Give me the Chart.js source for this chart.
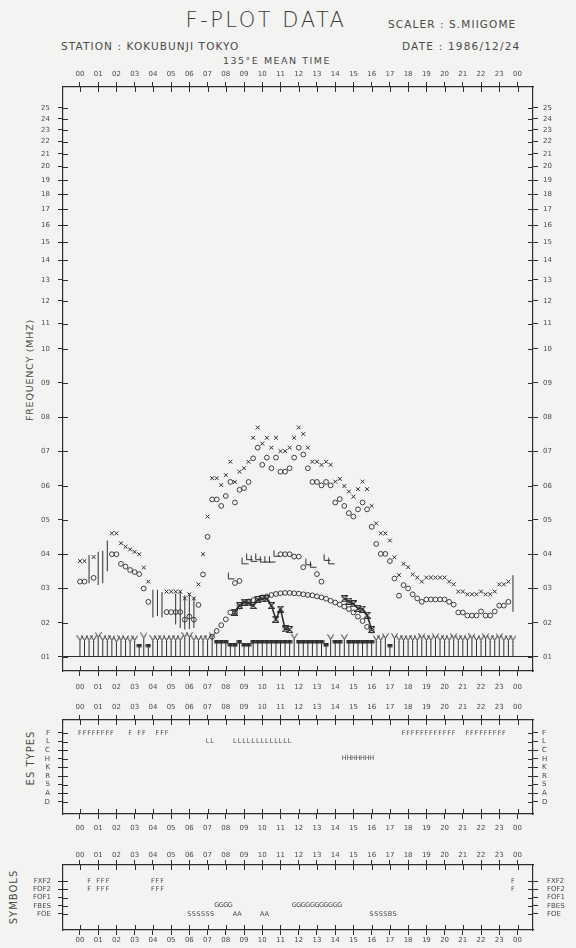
<!DOCTYPE html>
<html>
<head>
<meta charset="utf-8">
<title>F-PLOT DATA</title>
<script src="https://cdn.jsdelivr.net/npm/chart.js@4.4.1/dist/chart.umd.min.js"></script>
<style>
html,body{margin:0;padding:0;}
body{width:576px;height:948px;background:#f3f3f1;position:relative;overflow:hidden;font-family:"DejaVu Sans",sans-serif;color:#4a4a4a;}
.t{position:absolute;white-space:nowrap;line-height:1;}
.c{transform:translate(-50%,-50%);}
.l{transform:translate(0,-50%);}
.r{transform:translate(-50%,-50%) rotate(-90deg);}
canvas{position:absolute;left:0;}
</style>
</head>
<body>
<div class="t c" style="left:266px;top:20px;font-size:21px;font-weight:200;letter-spacing:2.5px;color:#3a3a3a;">F-PLOT DATA</div>
<div class="t l" style="left:388px;top:24px;font-size:10.5px;letter-spacing:1.1px;">SCALER : S.MIIGOME</div>
<div class="t l" style="left:61px;top:46px;font-size:10.5px;letter-spacing:1.1px;">STATION : KOKUBUNJI TOKYO</div>
<div class="t l" style="left:402px;top:46px;font-size:10.5px;letter-spacing:1.2px;">DATE : 1986/12/24</div>
<div class="t c" style="left:277px;top:61px;font-size:9.5px;letter-spacing:1.5px;">135°E MEAN TIME</div>
<div class="t r" style="left:30px;top:370px;font-size:9.5px;letter-spacing:0.8px;">FREQUENCY (MHZ)</div>
<div class="t r" style="left:31px;top:758px;font-size:10px;letter-spacing:1px;">ES TYPES</div>
<div class="t r" style="left:14px;top:897px;font-size:10px;letter-spacing:1px;">SYMBOLS</div>
<canvas id="cMain" width="576" height="640" style="top:60px"></canvas>
<canvas id="cEs" width="576" height="140" style="top:700px"></canvas>
<canvas id="cSym" width="576" height="106" style="top:842px"></canvas>
<script>
// ---------------- data ----------------
const HOUR_TICKS  = [0,1,2,3,4,5,6,7,8,9,10,11,12,13,14,15,16,17,18,19,20,21,22,23,24];
const HOUR_LABELS = ['00','01','02','03','04','05','06','07','08','09','10','11','12','13','14','15','16','17','18','19','20','21','22','23','00'];
const FREQ_TICKS  = [1,2,3,4,5,6,7,8,9,10,11,12,13,14,15,16,17,18,19,20,21,22,23,24,25];
const FREQ_LABELS = ['01','02','03','04','05','06','07','08','09','10','11','12','13','14','15','16','17','18','19','20','21','22','23','24','25'];
const ES_ROWS  = ['D','A','S','R','K','H','C','L','F'];
const SYM_ROWS = ['FOE','FBES','FOF1','FOF2','FXF2'];

// [hour, MHz]
const FXF2 = [[0,3.8],[0.25,3.8],[0.75,3.92],[1.75,4.61],[2,4.61],[2.25,4.32],[2.5,4.22],[2.75,4.14],[3,4.07],[3.25,4.0],[3.5,3.61],[3.75,3.2],
 [4.75,2.91],[5,2.91],[5.25,2.91],[5.5,2.91],[5.75,2.71],[6,2.83],[6.25,2.71],[6.5,3.12],[6.75,4.0],[7,5.1],[7.25,6.22],[7.5,6.22],[7.75,6.02],[8,6.31],
 [8.25,6.7],[8.5,6.11],[8.75,6.41],[9,6.51],[9.25,6.7],[9.5,7.4],[9.75,7.7],[10,7.23],[10.25,7.4],[10.5,7.11],[10.75,7.4],[11,7.01],[11.25,7.01],[11.5,7.11],
 [11.75,7.4],[12,7.7],[12.25,7.51],[12.5,7.11],[12.75,6.7],[13,6.7],[13.25,6.61],[13.5,6.7],[13.75,6.61],[14,6.12],[14.25,6.2],[14.5,5.99],[14.75,5.83],
 [15,5.68],[15.25,5.9],[15.5,6.12],[15.75,5.9],[16,5.41],[16.25,4.9],[16.5,4.61],[16.75,4.61],[17,4.4],[17.25,3.91],[17.5,3.39],[17.75,3.72],[18,3.62],
 [18.25,3.41],[18.5,3.32],[18.75,3.2],[19,3.32],[19.25,3.32],[19.5,3.32],[19.75,3.32],[20,3.32],[20.25,3.2],[20.5,3.12],[20.75,2.91],[21,2.91],[21.25,2.83],
 [21.5,2.83],[21.75,2.83],[22,2.91],[22.25,2.83],[22.5,2.83],[22.75,2.91],[23,3.12],[23.25,3.12],[23.5,3.2]];
const FOF2 = [[0,3.2],[0.25,3.2],[0.75,3.31],[1.75,4.0],[2,4.0],[2.25,3.72],[2.5,3.64],[2.75,3.54],[3,3.48],[3.25,3.42],[3.5,3.0],[3.75,2.61],
 [4.75,2.31],[5,2.31],[5.25,2.31],[5.5,2.31],[5.75,2.09],[6,2.18],[6.25,2.09],[6.5,2.52],[6.75,3.41],[7,4.51],[7.25,5.6],[7.5,5.6],[7.75,5.41],[8,5.7],
 [8.25,6.11],[8.5,5.51],[8.75,5.88],[9,5.93],[9.25,6.11],[9.5,6.8],[9.75,7.11],[10,6.61],[10.25,6.82],[10.5,6.51],[10.75,6.82],[11,6.41],[11.25,6.41],
 [11.5,6.51],[11.75,6.82],[12,7.11],[12.25,6.91],[12.5,6.51],[12.75,6.11],[13,6.11],[13.25,6.01],[13.5,6.11],[13.75,6.01],[14,5.51],[14.25,5.61],[14.5,5.41],
 [14.75,5.2],[15,5.1],[15.25,5.31],[15.5,5.51],[15.75,5.31],[16,4.8],[16.25,4.3],[16.5,4.01],[16.75,4.01],[17,3.8],[17.25,3.29],[17.5,2.79],[17.75,3.1],
 [18,3.0],[18.25,2.83],[18.5,2.71],[18.75,2.61],[19,2.68],[19.25,2.68],[19.5,2.68],[19.75,2.68],[20,2.68],[20.25,2.61],[20.5,2.53],[20.75,2.3],[21,2.3],
 [21.25,2.21],[21.5,2.21],[21.75,2.21],[22,2.33],[22.25,2.21],[22.5,2.21],[22.75,2.33],[23,2.5],[23.25,2.5],[23.5,2.61]];
const FOF1_L = [[8.25,3.34],[9,3.78],[9.25,3.9],[9.5,3.85],[9.75,3.9],[10,3.83],[10.25,3.83],[10.5,3.83],[10.75,4.0],[12.5,3.75],[12.75,3.68],[13.5,3.88],[13.75,3.78]];
const FOF1_O = [[8.5,3.16],[8.75,3.22],[11,4.0],[11.25,4.0],[11.5,4.0],[11.75,3.93],[12,3.93],[12.25,3.62],[13,3.42],[13.25,3.2]];
const FOE = [[7.25,1.59],[7.5,1.76],[7.75,1.93],[8,2.1],[8.25,2.3],[8.5,2.3],[8.75,2.47],[9,2.57],[9.25,2.62],[9.5,2.66],[9.75,2.7],[10,2.74],[10.25,2.77],
 [10.5,2.81],[10.75,2.84],[11,2.86],[11.25,2.87],[11.5,2.87],[11.75,2.86],[12,2.85],[12.25,2.83],[12.5,2.81],[12.75,2.8],[13,2.77],[13.25,2.74],[13.5,2.7],
 [13.75,2.64],[14,2.59],[14.25,2.53],[14.5,2.47],[14.75,2.4],[15,2.3],[15.25,2.18],[15.5,2.05],[15.75,1.88],[16,1.77]];
const FOES = [[8.5,2.3],[8.75,2.5],[9,2.6],[9.25,2.58],[9.5,2.5],[9.75,2.68],[10,2.7],[10.25,2.7],[10.5,2.5],[10.75,2.1],[11,2.4],[11.25,1.82],[11.5,1.8],
 [12,null],[14.5,2.7],[14.75,2.63],[15,2.55],[15.25,2.42],[15.5,2.4],[15.75,2.22],[16,1.8]];
// spread-F ranges [hour, low, high]
const SPREAD = [[0.5,3.15,3.98],[1,3.1,4.07],[1.25,3.15,4.1],[1.5,3.5,4.4],[4,2.15,2.96],[4.25,2.2,2.96],[4.5,2.15,2.9],
 [5.25,1.95,2.85],[5.5,1.85,2.9],[5.75,1.8,2.8],[6,1.82,2.85],[6.25,1.85,2.75],[23.75,2.32,3.39]];
const FMIN_BASE = 1.0;
const FMIN_Y = [[0,1.47],[0.25,1.47],[0.5,1.47],[0.75,1.47],[1,1.56],[1.25,1.47],[1.5,1.47],[1.75,1.47],[2,1.43],[2.25,1.47],[2.5,1.47],[2.75,1.43],
 [3,1.47],[3.5,1.54],[4,1.47],[4.25,1.47],[4.5,1.47],[4.75,1.47],[5,1.47],[5.25,1.47],[5.5,1.47],[5.75,1.56],[6,1.56],[6.25,1.47],[6.5,1.47],[6.75,1.47],
 [7,1.47],[7.25,1.56],[11.75,1.52],[13.75,1.5],[14.5,1.5],
 [16.25,1.47],[16.5,1.47],[16.75,1.53],[17.25,1.53],[17.5,1.47],[17.75,1.47],[18,1.47],[18.25,1.47],[18.5,1.47],[18.75,1.52],[19,1.47],[19.25,1.47],
 [19.5,1.52],[19.75,1.47],[20,1.47],[20.25,1.47],[20.5,1.52],[20.75,1.47],[21,1.47],[21.25,1.47],[21.5,1.52],[21.75,1.47],[22,1.47],[22.25,1.52],
 [22.5,1.47],[22.75,1.47],[23,1.52],[23.25,1.47],[23.5,1.47],[23.75,1.47]];
const FMIN_SQ = [[3.25,1.3],[3.75,1.3],[7.5,1.41],[7.75,1.41],[8,1.41],[8.25,1.32],[8.5,1.32],[8.75,1.41],[9,1.32],[9.25,1.32],[9.5,1.41],[9.75,1.41],
 [10,1.41],[10.25,1.41],[10.5,1.41],[10.75,1.41],[11,1.41],[11.25,1.41],[11.5,1.41],[12,1.41],[12.25,1.41],[12.5,1.41],[12.75,1.41],[13,1.41],[13.25,1.41],
 [13.5,1.32],[14,1.41],[14.25,1.41],[14.75,1.41],[15,1.41],[15.25,1.41],[15.5,1.41],[15.75,1.41],[16,1.41],[17,1.3]];

// ES types (hours per row letter)
const ES_F = [0,0.25,0.5,0.75,1,1.25,1.5,1.75,2.75,3.25,3.5,4.25,4.5,4.75,17.75,18,18.25,18.5,18.75,19,19.25,19.5,19.75,20,20.25,20.5,
 21.25,21.5,21.75,22,22.25,22.5,22.75,23,23.25];
const ES_L = [7,7.25,8.5,8.75,9,9.25,9.5,9.75,10,10.25,10.5,10.75,11,11.25,11.5];
const ES_H = [14.5,14.75,15,15.25,15.5,15.75,16];
// symbols
const SYM_FXF2 = [[0.5,'F'],[1,'F'],[1.25,'F'],[1.5,'F'],[4,'F'],[4.25,'F'],[4.5,'F'],[23.75,'F']];
const SYM_FOF2 = [[0.5,'F'],[1,'F'],[1.25,'F'],[1.5,'F'],[4,'F'],[4.25,'F'],[4.5,'F'],[23.75,'F']];
const SYM_FBES = [[7.5,'G'],[7.75,'G'],[8,'G'],[8.25,'G'],[11.75,'G'],[12,'G'],[12.25,'G'],[12.5,'G'],[12.75,'G'],[13,'G'],[13.25,'G'],[13.5,'G'],[13.75,'G'],[14,'G'],[14.25,'G']];
const SYM_FOE = [[6,'S'],[6.25,'S'],[6.5,'S'],[6.75,'S'],[7,'S'],[7.25,'S'],[8.5,'A'],[8.75,'A'],[10,'A'],[10.25,'A'],[16,'S'],[16.25,'S'],[16.5,'S'],[16.75,'S'],[17,'B'],[17.25,'S']];

// ---------------- styling ----------------
const INK = '#2e2e2e';
const TXT = '#4a4a4a';
const FONT = 'DejaVu Sans';
const X_MIN = -0.93, X_MAX = 24.85;
const F_MIN = 0.591, F_MAX = 27.08;
const K_LOG = 17.66;
Chart.defaults.font.family = FONT;
Chart.defaults.color = TXT;

// frequency scale: linear up to 10 MHz, logarithmic above
const fwd = f => f <= 10 ? f : 10 + K_LOG * Math.log10(f / 10);
const inv = t => t <= 10 ? t : 10 * Math.pow(10, (t - 10) / K_LOG);
class FreqScale extends Chart.Scale {
  determineDataLimits() { this.min = this.options.min; this.max = this.options.max; }
  buildTicks() { return []; }
  getLabelForValue(v) { return String(v); }
  configure() { super.configure(); this._t0 = fwd(this.min); this._t1 = fwd(this.max); }
  getPixelForValue(v) {
    if (v === null || v === undefined || isNaN(v)) return NaN;
    return this.getPixelForDecimal((fwd(v) - this._t0) / (this._t1 - this._t0));
  }
  getValueForPixel(p) { return inv(this._t0 + this.getDecimalForPixel(p) * (this._t1 - this._t0)); }
}
FreqScale.id = 'freq';
FreqScale.defaults = {};
Chart.register(FreqScale);

// point glyphs
function glyph(w, h, draw) {
  const c = document.createElement('canvas'); c.width = w; c.height = h;
  const g = c.getContext('2d'); g.strokeStyle = INK; g.fillStyle = INK; g.lineWidth = 1; draw(g); return c;
}
const IMG_Y = glyph(7, 12, g => { g.beginPath(); g.moveTo(0.5,0.5); g.lineTo(3.5,5.5); g.lineTo(6.5,0.5); g.moveTo(3.5,5.5); g.lineTo(3.5,6.5); g.stroke(); });
const IMG_HG = glyph(7, 7, g => { g.lineWidth = 1.2; g.beginPath(); g.moveTo(0.5,0.5); g.lineTo(6.5,0.5); g.lineTo(0.5,6.5); g.lineTo(6.5,6.5); g.lineTo(0.5,0.5); g.stroke(); });
const IMG_L = glyph(9, 9, g => { g.beginPath(); g.moveTo(2.5,0.5); g.lineTo(2.5,6.5); g.lineTo(8.5,6.5); g.stroke(); });
const IMG_SQ = glyph(6, 6, g => { g.fillRect(0.5,1,5,2.5); g.beginPath(); g.moveTo(0.5,0.5); g.lineTo(5.5,0.5); g.stroke(); });

// plugins
const TICK_IN = 5;
const inTicks = {
  id: 'inTicks',
  afterDraw(chart) {
    const ctx = chart.ctx, ca = chart.chartArea;
    ctx.save(); ctx.strokeStyle = INK; ctx.lineWidth = 1; ctx.beginPath();
    Object.values(chart.scales).forEach(s => {
      for (let i = 0; i < s.ticks.length; i++) {
        const p = Math.round(s.getPixelForTick(i)) + 0.5;
        if (s.position === 'top') { ctx.moveTo(p, ca.top); ctx.lineTo(p, ca.top + TICK_IN); }
        else if (s.position === 'bottom') { ctx.moveTo(p, ca.bottom); ctx.lineTo(p, ca.bottom - TICK_IN); }
        else if (s.position === 'left') { ctx.moveTo(ca.left, p); ctx.lineTo(ca.left + TICK_IN, p); }
        else { ctx.moveTo(ca.right, p); ctx.lineTo(ca.right - TICK_IN, p); }
      }
    });
    ctx.stroke(); ctx.restore();
  }
};
const letters = {
  id: 'letters',
  afterDatasetsDraw(chart) {
    const ctx = chart.ctx;
    ctx.save(); ctx.fillStyle = TXT; ctx.font = '6.5px "' + FONT + '"'; ctx.textAlign = 'center'; ctx.textBaseline = 'middle';
    chart.data.datasets.forEach((ds, i) => {
      if (!ds.letters) return;
      chart.getDatasetMeta(i).data.forEach((el, j) => ctx.fillText(ds.data[j].t, el.x, el.y));
    });
    ctx.restore();
  }
};

function hourAxis(position, pad, size) {
  return {
    type: 'linear', axis: 'x', position, min: X_MIN, max: X_MAX, offset: false,
    afterBuildTicks: s => { s.ticks = HOUR_TICKS.map(v => ({ value: v })); },
    afterFit: s => { s.height = size; },
    ticks: { autoSkip: false, maxRotation: 0, minRotation: 0, padding: pad, font: { size: 7 }, color: TXT, callback: (v, i) => HOUR_LABELS[i] },
    grid: { display: true, offset: false, drawOnChartArea: false, drawTicks: true, tickLength: 5, color: INK, tickColor: INK, lineWidth: 1 },
    border: { display: true, color: INK, width: 1.2 }
  };
}
function rowAxis(position, min, max, vals, labels, pad, width, type) {
  return {
    type: type || 'linear', axis: 'y', position, min, max, offset: false,
    afterBuildTicks: s => { s.ticks = vals.map(v => ({ value: v })); },
    afterFit: s => { s.width = width; },
    ticks: { autoSkip: false, padding: pad, font: { size: 7 }, color: TXT, callback: (v, i) => labels[i] },
    grid: { display: true, offset: false, drawOnChartArea: false, drawTicks: true, tickLength: 5, color: INK, tickColor: INK, lineWidth: 1 },
    border: { display: true, color: INK, width: 1.2 }
  };
}
const pts = a => a.map(([x, y]) => ({ x, y }));
const common = { responsive: false, animation: false, devicePixelRatio: 1, events: [],
  layout: { padding: 0 }, plugins: { legend: { display: false }, tooltip: { enabled: false } } };
const OPEN = 'rgba(0,0,0,0)';

// ---------------- main chart ----------------
const yLeft = rowAxis('left', F_MIN, F_MAX, FREQ_TICKS, FREQ_LABELS, 8, 63, 'freq');
yLeft.grid.drawOnChartArea = true;
yLeft.grid.color = c => (c.tick && c.tick.value === 1) ? INK : OPEN;
new Chart(document.getElementById('cMain'), {
  type: 'scatter',
  data: { datasets: [
    { label: 'fxF2', data: pts(FXF2), pointStyle: 'crossRot', pointRadius: 2.7, borderColor: INK, borderWidth: 1, backgroundColor: OPEN },
    { label: 'foF2', data: pts(FOF2), pointStyle: 'circle', pointRadius: 2.4, borderColor: INK, borderWidth: 0.9, backgroundColor: OPEN },
    { label: 'foF1', data: pts(FOF1_L), pointStyle: IMG_L, pointRadius: 4 },
    { label: 'foF1 (o)', data: pts(FOF1_O), pointStyle: 'circle', pointRadius: 2.4, borderColor: INK, borderWidth: 0.9, backgroundColor: OPEN },
    { label: 'foE', data: pts(FOE), pointStyle: 'circle', pointRadius: 2.4, borderColor: INK, borderWidth: 0.9, backgroundColor: OPEN },
    { type: 'line', label: 'foEs', data: pts(FOES), showLine: true, spanGaps: false, tension: 0, fill: false, borderColor: INK, borderWidth: 1.6, pointStyle: IMG_HG, pointRadius: 3.5 },
    { type: 'bar', label: 'spread F', data: SPREAD.map(([x, lo, hi]) => ({ x, y: [lo, hi] })), backgroundColor: INK, borderWidth: 0, grouped: false, maxBarThickness: 1 },
    { type: 'bar', label: 'fmin stem', data: FMIN_Y.concat(FMIN_SQ).map(([x, v]) => ({ x, y: [FMIN_BASE, v] })), backgroundColor: INK, borderWidth: 0, grouped: false, maxBarThickness: 1 },
    { label: 'fmin', data: pts(FMIN_Y), pointStyle: IMG_Y, pointRadius: 4 },
    { label: 'fmin (sq)', data: pts(FMIN_SQ), pointStyle: IMG_SQ, pointRadius: 3 }
  ] },
  options: Object.assign({}, common, {
    scales: {
      xt: hourAxis('top', 4, 27),
      x: hourAxis('bottom', 7, 29),
      y: yLeft,
      yr: rowAxis('right', F_MIN, F_MAX, FREQ_TICKS, FREQ_LABELS, 5, 43, 'freq')
    }
  }),
  plugins: [inTicks]
});

// ---------------- ES types ----------------
const esRow = (hours, L) => hours.map(h => ({ x: h, y: ES_ROWS.indexOf(L), t: L }));
new Chart(document.getElementById('cEs'), {
  type: 'scatter',
  data: { datasets: [
    { label: 'F', letters: true, data: esRow(ES_F, 'F'), pointRadius: 0 },
    { label: 'L', letters: true, data: esRow(ES_L, 'L'), pointRadius: 0 },
    { label: 'H', letters: true, data: esRow(ES_H, 'H'), pointRadius: 0 }
  ] },
  options: Object.assign({}, common, {
    scales: {
      xt: hourAxis('top', 4, 20),
      x: hourAxis('bottom', 5, 26),
      y: rowAxis('left', -1.4, 9.5, [0,1,2,3,4,5,6,7,8], ES_ROWS, 8, 63),
      yr: rowAxis('right', -1.4, 9.5, [0,1,2,3,4,5,6,7,8], ES_ROWS, 4, 43)
    }
  }),
  plugins: [inTicks, letters]
});

// ---------------- symbols ----------------
const symRow = (arr, row) => arr.map(([h, t]) => ({ x: h, y: SYM_ROWS.indexOf(row), t }));
new Chart(document.getElementById('cSym'), {
  type: 'scatter',
  data: { datasets: [
    { label: 'FXF2', letters: true, data: symRow(SYM_FXF2, 'FXF2'), pointRadius: 0 },
    { label: 'FOF2', letters: true, data: symRow(SYM_FOF2, 'FOF2'), pointRadius: 0 },
    { label: 'FBES', letters: true, data: symRow(SYM_FBES, 'FBES'), pointRadius: 0 },
    { label: 'FOE',  letters: true, data: symRow(SYM_FOE, 'FOE'), pointRadius: 0 }
  ] },
  options: Object.assign({}, common, {
    scales: {
      xt: hourAxis('top', 1, 23),
      x: hourAxis('bottom', 1, 18),
      y: rowAxis('left', -1.94, 5.94, [0,1,2,3,4], SYM_ROWS, 7, 63),
      yr: rowAxis('right', -1.94, 5.94, [0,1,2,3,4], SYM_ROWS, 9, 43)
    }
  }),
  plugins: [inTicks, letters]
});
</script>
</body>
</html>
